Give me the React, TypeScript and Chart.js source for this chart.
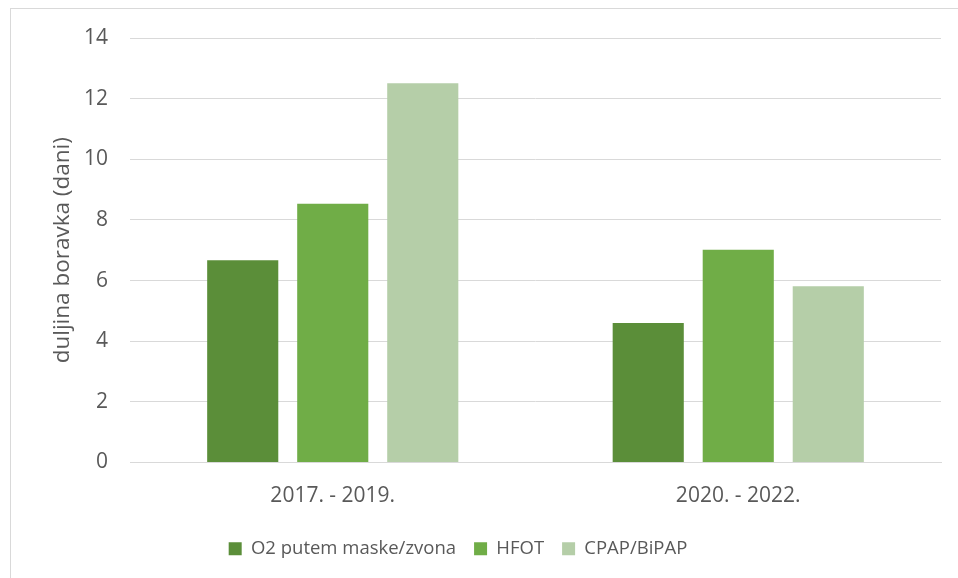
import React, { useEffect, useRef } from "react";
import { Chart, registerables } from "chart.js";

Chart.register(...registerables);

const categories = ["2017. - 2019.", "2020. - 2022."];
const seriesNames = ["O2 putem maske/zvona", "HFOT", "CPAP/BiPAP"];
const o2Values = [6.67, 4.6];
const hfotValues = [8.53, 7.02];
const cpapValues = [12.51, 5.81];
const colors = ["#5B8E39", "#70AD47", "#B5CEA8"];
const yTicks = [0, 2, 4, 6, 8, 10, 12, 14];
const yTitle = "duljina boravka (dani)";

const FONT = "'Open Sans', 'DejaVu Sans', sans-serif";
const TEXT = "#595959";

const legendShift = {
  id: "legendShift",
  afterLayout(chart: any) {
    const lg = chart.legend;
    if (lg) {
      lg.left -= 37;
      lg.right -= 37;
    }
  },
};

export default function App() {
  const ref = useRef<HTMLCanvasElement | null>(null);
  useEffect(() => {
    if (!ref.current) return;
    const chart = new Chart(ref.current, {
      type: "bar",
      data: {
        labels: categories,
        datasets: [o2Values, hfotValues, cpapValues].map((d, i) => ({
          label: seriesNames[i],
          data: d,
          backgroundColor: colors[i],
          borderWidth: 0,
          categoryPercentage: 0.666,
          barPercentage: 0.79,
        })),
      },
      plugins: [legendShift],
      options: {
        animation: false,
        responsive: false,
        maintainAspectRatio: false,
        layout: { padding: { left: 49, right: 17, top: 38, bottom: 10 } },
        plugins: {
          tooltip: { enabled: false },
          legend: {
            position: "bottom",
            labels: {
              boxWidth: 13,
              boxHeight: 13,
              padding: 18,
              color: TEXT,
              font: { family: FONT, size: 18.5 },
            },
          },
        },
        scales: {
          x: {
            grid: { display: false, drawTicks: false },
            border: { display: true, color: "#d9d9d9", width: 1 },
            ticks: { color: TEXT, padding: 21, font: { family: FONT, size: 21 } },
            afterFit: (s: any) => {
              s.height = 59;
            },
          },
          y: {
            min: 0,
            max: 14,
            afterBuildTicks: (s: any) => {
              s.ticks = yTicks.map((v) => ({ value: v }));
            },
            grid: { color: "#d9d9d9", lineWidth: 1, drawTicks: false },
            border: { display: false },
            ticks: { color: TEXT, padding: 22, font: { family: FONT, size: 21 } },
            title: {
              display: true,
              text: yTitle,
              color: TEXT,
              padding: 0,
              font: { family: FONT, size: 22.5 },
            },
            afterFit: (s: any) => {
              s.width = 81;
            },
          },
        },
      },
    });
    return () => chart.destroy();
  }, []);
  return (
    <div style={{ position: "fixed", left: 0, top: 0, width: 958, height: 578, background: "#fff" }}>
      <div
        style={{
          position: "absolute",
          left: 10,
          top: 8,
          width: 1000,
          height: 620,
          border: "1px solid #d9d9d9",
          boxSizing: "border-box",
        }}
      />
      <canvas ref={ref} width={958} height={578} style={{ position: "absolute", left: 0, top: 0 }} />
    </div>
  );
}
